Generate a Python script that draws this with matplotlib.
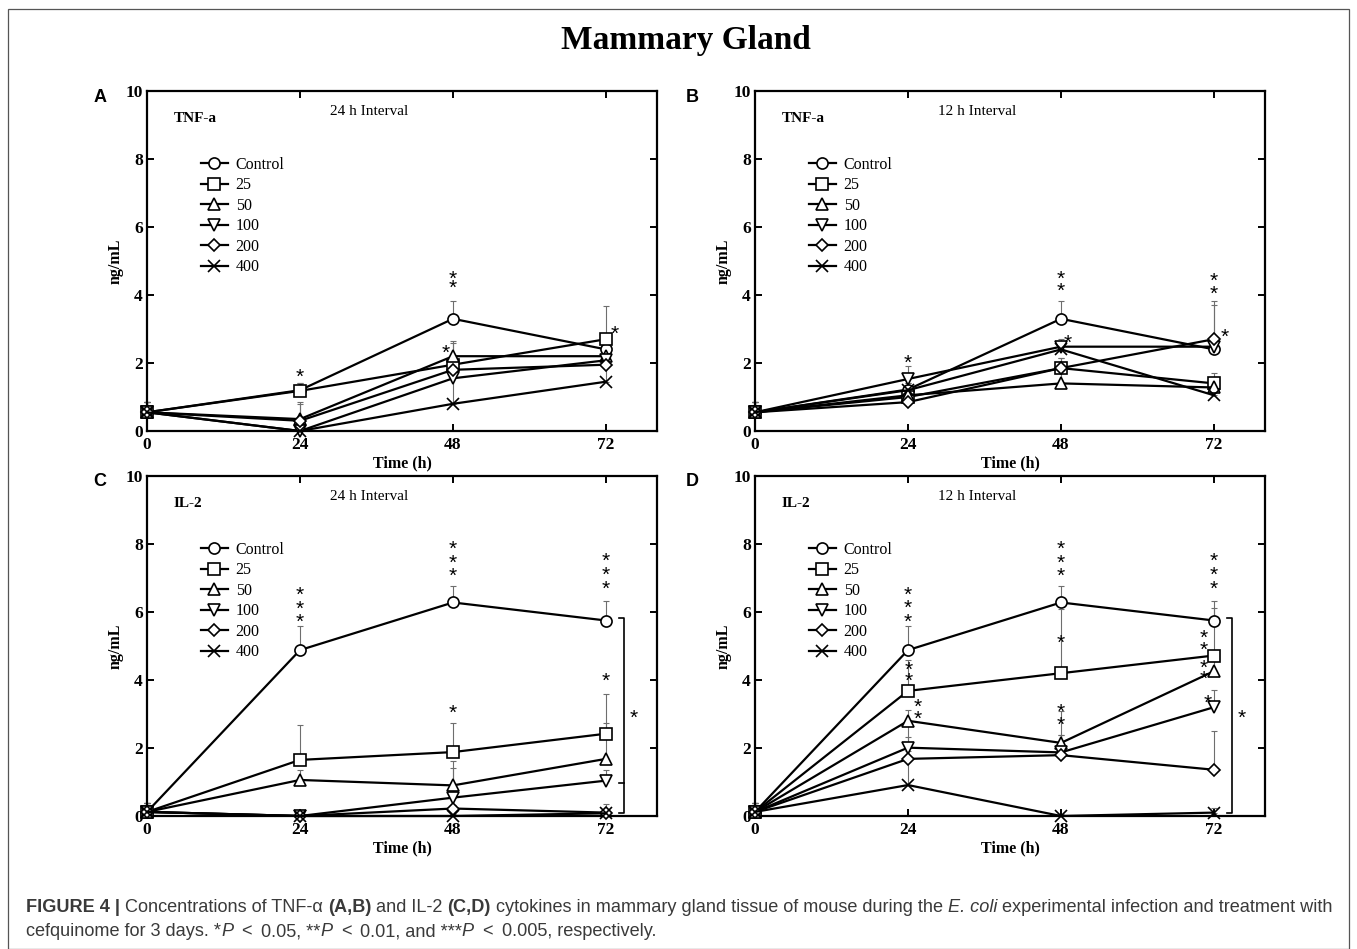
import matplotlib
matplotlib.use("Agg")
import matplotlib.pyplot as plt
from matplotlib.patches import Rectangle
import matplotlib.transforms as mtransforms
import numpy as np

# ---------------- data ----------------
times = [0, 24, 48, 72]
groups = ["Control", "25", "50", "100", "200", "400"]
markers = ["o", "s", "^", "v", "D", "x"]

# Panel A: TNF-a, 24 h interval
A_vals = [
    [0.55, 1.20, 3.30, 2.40],
    [0.55, 1.18, 1.95, 2.70],
    [0.55, 0.35, 2.20, 2.20],
    [0.55, 0.00, 1.55, 2.08],
    [0.55, 0.30, 1.80, 1.95],
    [0.55, 0.00, 0.80, 1.45],
]
A_err = [
    [0.30, 0.22, 0.52, 0.20],
    [0.30, 0.22, 0.65, 0.98],
    [0.30, 0.50, 0.45, 0.20],
    [0.30, 0.20, 0.20, 0.15],
    [0.30, 0.50, 0.20, 0.15],
    [0.30, 0.10, 0.80, 0.45],
]
# Panel B: TNF-a, 12 h interval
B_vals = [
    [0.55, 1.22, 3.30, 2.40],
    [0.55, 1.00, 1.85, 1.40],
    [0.55, 1.05, 1.40, 1.28],
    [0.55, 1.53, 2.48, 2.48],
    [0.55, 0.85, 1.85, 2.70],
    [0.55, 1.20, 2.40, 1.05],
]
B_err = [
    [0.30, 0.20, 0.52, 1.30],
    [0.30, 0.20, 0.30, 0.30],
    [0.30, 0.20, 0.30, 0.20],
    [0.30, 0.37, 0.18, 0.20],
    [0.30, 0.20, 0.30, 1.12],
    [0.30, 0.20, 0.30, 0.20],
]
# Panel C: IL-2, 24 h interval
C_vals = [
    [0.12, 4.88, 6.28, 5.75],
    [0.12, 1.65, 1.88, 2.42],
    [0.12, 1.06, 0.90, 1.68],
    [0.12, 0.00, 0.54, 1.04],
    [0.12, 0.00, 0.22, 0.10],
    [0.12, 0.00, 0.00, 0.08],
]
C_err = [
    [0.25, 0.70, 0.48, 0.58],
    [0.25, 1.02, 0.87, 1.17],
    [0.25, 0.30, 0.73, 1.06],
    [0.25, 0.05, 0.87, 0.30],
    [0.25, 0.05, 0.10, 0.25],
    [0.25, 0.05, 0.05, 0.05],
]
# Panel D: IL-2, 12 h interval
D_vals = [
    [0.12, 4.88, 6.28, 5.75],
    [0.12, 3.68, 4.20, 4.72],
    [0.12, 2.80, 2.15, 4.26],
    [0.12, 2.01, 1.87, 3.20],
    [0.12, 1.68, 1.79, 1.36],
    [0.12, 0.91, 0.00, 0.10],
]
D_err = [
    [0.25, 0.70, 0.48, 0.58],
    [0.25, 0.92, 1.90, 1.40],
    [0.25, 0.32, 0.95, 0.50],
    [0.25, 0.30, 0.50, 0.50],
    [0.25, 1.00, 0.60, 1.15],
    [0.25, 1.00, 0.05, 0.15],
]

# significance stars: (x, y, text)
A_stars = [(24, 1.76, "*"), (48, 4.66, "*"), (48, 4.40, "*"), (46.8, 2.47, "*"), (73.3, 3.04, "*")]
B_stars = [(24, 2.17, "*"), (48, 4.65, "*"), (48, 4.30, "*"), (49.0, 2.77, "*"),
           (72, 4.60, "*"), (72, 4.20, "*"), (73.6, 2.94, "*")]
C_stars = [(24, 6.68, "*"), (24, 6.28, "*"), (24, 5.90, "*"),
           (48, 8.03, "*"), (48, 7.63, "*"), (48, 7.24, "*"),
           (72, 7.68, "*"), (72, 7.27, "*"), (72, 6.87, "*"),
           (48, 3.22, "*"), (72, 4.16, "*"), (76.4, 3.06, "*")]
D_stars = [(24, 6.68, "*"), (24, 6.30, "*"), (24, 5.89, "*"),
           (24.1, 4.48, "*"), (24.1, 4.14, "*"), (25.5, 3.39, "*"), (25.5, 3.03, "*"),
           (48, 8.03, "*"), (48, 7.63, "*"), (48, 7.24, "*"),
           (48, 5.27, "*"), (48, 3.25, "*"), (48, 2.86, "*"),
           (72, 7.68, "*"), (72, 7.27, "*"), (72, 6.87, "*"),
           (70.4, 5.41, "*"), (70.4, 5.07, "*"), (70.4, 4.54, "*"), (70.4, 4.21, "*"),
           (71.0, 3.52, "*"), (76.4, 3.08, "*")]

# brackets: (x, y_top, y_bottom, middle ticks)
C_bracket = (74.9, 5.82, 0.10, [0.97])
D_bracket = (74.9, 5.82, 0.10, [])

panels = [
    ("A", "TNF-a", "24 h Interval", A_vals, A_err, A_stars, None),
    ("B", "TNF-a", "12 h Interval", B_vals, B_err, B_stars, None),
    ("C", "IL-2", "24 h Interval", C_vals, C_err, C_stars, C_bracket),
    ("D", "IL-2", "12 h Interval", D_vals, D_err, D_stars, D_bracket),
]

# ---------------- figure ----------------
W, H = 1357, 949
fig = plt.figure(figsize=(W / 100, H / 100), dpi=100)
fig.patch.set_facecolor("white")
SERIF = "Liberation Serif"
SANS = "Liberation Sans"

# outer border
fig.add_artist(Rectangle((8 / W, 0.0), (1349 - 8) / W, (H - 9) / H,
                         transform=fig.transFigure, fill=False,
                         edgecolor="#555555", linewidth=0.9))

fig.text(686 / W, 1 - 40 / H, "Mammary Gland", fontsize=24, fontweight="bold",
         family=SERIF, ha="center", va="center")

def px_axes(l, r, t, b):
    return [l / W, 1 - b / H, (r - l) / W, (b - t) / H]

rects = [
    px_axes(147, 657, 91, 431),
    px_axes(755, 1265, 91, 431),
    px_axes(147, 657, 476, 816),
    px_axes(755, 1265, 476, 816),
]
letter_pos = [(100, 98), (692, 98), (100, 481), (692, 481)]

STAR_FS = 15

for (letter, cyt, interval, vals, errs, stars, bracket), rect, lp in zip(panels, rects, letter_pos):
    ax = fig.add_axes(rect)
    handles = []
    for i, g in enumerate(groups):
        v = np.array(vals[i])
        e = np.array(errs[i])
        ax.errorbar(times, v, yerr=[np.zeros_like(e), e], fmt="none",
                    ecolor="#6e6e6e", elinewidth=0.8, capsize=2.2, capthick=0.8,
                    clip_on=False, zorder=1)
        ln, = ax.plot(times, v, color="black", linewidth=1.6, marker=markers[i],
                      markersize=8 if markers[i] != "D" else 6.5,
                      markerfacecolor="white" if markers[i] != "x" else "black",
                      markeredgecolor="black", markeredgewidth=1.2,
                      clip_on=False, zorder=3, label=g)
        handles.append(ln)
    ax.set_xlim(0, 80)
    ax.set_ylim(0, 10)
    ax.set_xticks([0, 24, 48, 72])
    ax.set_yticks([0, 2, 4, 6, 8, 10])
    ax.tick_params(direction="in", length=5, width=1.4, top=True, right=True,
                   labelsize=12.5)
    ax.tick_params(axis="x", pad=4)
    ax.tick_params(axis="y", pad=3)
    for lab in ax.get_xticklabels() + ax.get_yticklabels():
        lab.set_fontfamily(SERIF)
        lab.set_fontweight("bold")
    for sp in ax.spines.values():
        sp.set_linewidth(1.6)
    ax.set_xlabel("Time (h)", fontsize=11.5, fontweight="bold", family=SERIF, labelpad=2)
    ax.set_ylabel("ng/mL", fontsize=11.5, fontweight="bold", family=SERIF, labelpad=1)

    ax.text(0.052, 0.918, cyt, transform=ax.transAxes, fontsize=11, fontweight="bold",
            family=SERIF, ha="left", va="center")
    ax.text(0.435, 0.939, interval, transform=ax.transAxes, fontsize=11,
            family=SERIF, ha="center", va="center")

    star_tr = mtransforms.offset_copy(ax.transData, fig=fig, x=0, y=-0.58 * STAR_FS,
                                      units="points")
    for (sx, sy, st) in stars:
        ax.text(sx, sy, st, fontsize=STAR_FS, family=SANS, ha="center", va="baseline",
                transform=star_tr, zorder=5)

    if bracket is not None:
        bx, bt, bb, mids = bracket
        tk = 0.9
        ax.plot([bx - tk, bx, bx, bx - tk], [bt, bt, bb, bb], color="black",
                linewidth=1.2, clip_on=False)
        for m in mids:
            ax.plot([bx - tk, bx], [m, m], color="black", linewidth=1.2, clip_on=False)

    ax.legend(handles=handles, loc="upper left", bbox_to_anchor=(0.105, 0.806),
              frameon=False, prop={"family": SERIF, "size": 11.5}, handlelength=1.7,
              handletextpad=0.5, labelspacing=0.28, borderpad=0, borderaxespad=0)

    fig.text(lp[0] / W, 1 - lp[1] / H, letter, fontsize=13, fontweight="bold",
             family=SANS, ha="center", va="center")

# ---------------- caption with mixed styles ----------------
# pieces: (text, style, gap after, in space widths)
cap_lines = [
    [("FIGURE 4 |", "bold", 1), ("Concentrations of TNF-α", "normal", 1),
     ("(A,B)", "bold", 1), ("and IL-2", "normal", 1), ("(C,D)", "bold", 1),
     ("cytokines in mammary gland tissue of mouse during the", "normal", 1),
     ("E. coli", "italic", 1),
     ("experimental infection and treatment with", "normal", 0)],
    [("cefquinome for 3 days. *", "normal", 0), ("P", "italic", 1.7),
     ("<", "normal", 1.7), ("0.05, **", "normal", 0), ("P", "italic", 1.7),
     ("<", "normal", 1.7), ("0.01, and ***", "normal", 0), ("P", "italic", 1.7),
     ("<", "normal", 1.7), ("0.005, respectively.", "normal", 0)],
]
cap_y = [907, 932]
CAP_SIZE = 13.1
CAP_COLOR = "#3a3a3a"
renderer = fig.canvas.get_renderer()

def text_width(s, **kw):
    t = fig.text(0, 0, s, **kw)
    w = t.get_window_extent(renderer=renderer).width
    t.remove()
    return w

space_w = (text_width("x x", family=SANS, fontsize=CAP_SIZE)
           - text_width("xx", family=SANS, fontsize=CAP_SIZE))

for line, yy in zip(cap_lines, cap_y):
    x = 26.0
    for s, style, gap in line:
        kw = dict(family=SANS, fontsize=CAP_SIZE, color=CAP_COLOR, ha="left", va="center")
        if style == "bold":
            kw["fontweight"] = "bold"
        elif style == "italic":
            kw["fontstyle"] = "italic"
        t = fig.text(x / W, 1 - yy / H, s, **kw)
        w = t.get_window_extent(renderer=renderer).width
        x += w + gap * space_w

fig.savefig("out.png", dpi=100, facecolor="white")
